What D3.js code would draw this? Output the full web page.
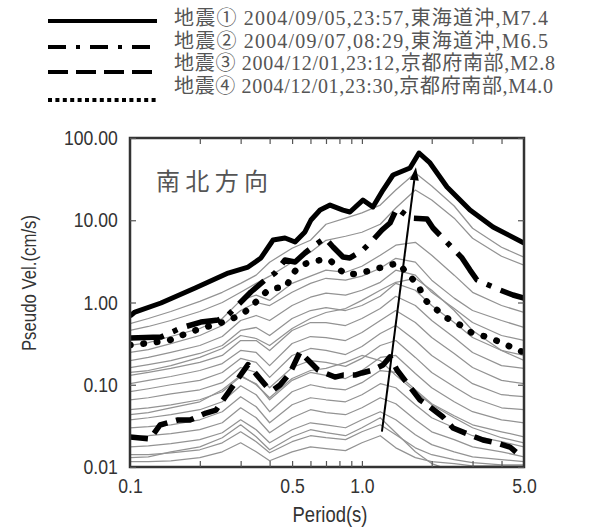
<!DOCTYPE html>
<html><head><meta charset="utf-8">
<script src="https://cdn.jsdelivr.net/npm/d3@7"></script>
<style>body{margin:0;background:#fff}</style>
</head><body><svg id="c" width="595" height="529"></svg>
<script>
// ---- data ----
const legendLabels = [
  "地震① 2004/09/05,23:57,東海道沖,M7.4",
  "地震② 2004/09/07,08:29,東海道沖,M6.5",
  "地震③ 2004/12/01,23:12,京都府南部,M2.8",
  "地震④ 2004/12/01,23:30,京都府南部,M4.0"
];
const panelTitle = "南北方向";
const xLabel = "Period(s)";
const yLabel = "Pseudo Vel.(cm/s)";
const xTickValues = [0.1, 0.5, 1, 5];
const xTickLabels = ["0.1", "0.5", "1.0", "5.0"];
const xMinorTicks = [0.2,0.3,0.4,0.5,0.6,0.7,0.8,0.9,1,2,3,4];
const yTickValues = [0.01, 0.1, 1, 10, 100];
const yTickLabels = ["0.01", "0.10", "1.00", "10.00", "100.00"];

// earthquake 1 (solid)
const eq1Period = [0.1,0.105,0.136,0.191,0.265,0.323,0.367,0.414,0.466,0.515,0.568,0.603,0.66,0.729,0.829,0.888,1.01,1.115,1.233,1.362,1.612,1.763,1.966,2.328,2.925,3.675,5.0];
const eq1Vel = [0.685,0.766,0.986,1.50,2.28,2.70,3.48,5.75,6.08,5.44,7.20,10.07,13.3,15.3,13.3,12.6,17.6,14.5,23.3,35.5,43.2,65.7,49.7,25.4,13.3,8.28,5.29];
// earthquake 2 (dash-dot)
const eq2Period = [0.1,0.136,0.166,0.202,0.240,0.265,0.292,0.332,0.382,0.422,0.466,0.515,0.568,0.628,0.693,0.751,0.829,0.888,1.01,1.115,1.221,1.322,1.417,1.489,1.612,1.909,2.026,2.702,2.925,3.135,3.939,4.483,5.0];
const eq2Vel = [0.370,0.381,0.490,0.579,0.613,0.705,0.932,1.342,1.877,2.28,3.29,3.11,4.00,5.00,6.08,4.73,3.57,3.48,4.35,5.75,7.61,9.26,14.1,12.6,10.65,10.35,8.05,3.48,2.48,1.877,1.419,1.234,1.13];
// earthquake 3 (dashed)
const eq3Period = [0.1,0.122,0.1347,0.161,0.1815,0.2127,0.2349,0.2646,0.2836,0.3227,0.3529,0.3897,0.4136,0.4433,0.4897,0.5408,0.5973,0.6467,0.6932,0.7656,0.8289,0.9337,1.0,1.115,1.233,1.322,1.417,1.564,1.781,1.966,2.237,2.471,2.925,3.328,3.824,4.351,4.951];
const eq3Vel = [0.0232,0.0219,0.0324,0.0373,0.0373,0.0453,0.0493,0.0794,0.105,0.176,0.131,0.0939,0.0863,0.0993,0.139,0.250,0.189,0.151,0.139,0.124,0.131,0.131,0.139,0.151,0.174,0.218,0.151,0.105,0.0653,0.0536,0.0405,0.0298,0.0245,0.0213,0.0196,0.0175,0.0129];
// earthquake 4 (dotted)
const eq4Period = [0.1,0.122,0.149,0.1815,0.221,0.270,0.313,0.3565,0.394,0.426,0.471,0.505,0.541,0.597,0.666,0.729,0.781,0.8625,0.981,1.104,1.233,1.431,1.564,1.746,1.871,2.108,2.328,2.649,2.984,3.462,3.939,4.483,4.951];
const eq4Vel = [0.304,0.322,0.350,0.438,0.518,0.613,0.766,1.073,1.419,1.50,1.543,2.28,2.78,3.11,3.29,3.29,2.63,2.16,2.28,2.48,2.70,3.02,2.28,1.632,1.073,0.811,0.648,0.533,0.426,0.381,0.331,0.280,0.250];

// other records (grey), all on the same period grid
const greyPeriod = [0.1,0.12,0.15,0.2,0.25,0.3,0.35,0.4,0.5,0.6,0.7,0.85,1.0,1.2,1.4,1.7,2.0,2.5,3.0,4.0,5.0];
const greyA1 = [0.555,0.639,0.777,1.03,1.33,1.71,2.15,3.09,4.57,5.71,8.94,10.6,12.3,15.3,23.3,37.5,26.1,14.9,7.99,4.70,3.55];
const greyA2 = [0.457,0.511,0.604,0.777,1.0,1.33,1.71,2.09,3.09,4.08,5.71,6.39,7.15,8.94,14.1,23.3,17.6,10.6,6.04,3.65,2.84];
const greyC4 = [0.300,0.326,0.386,0.483,0.639,1.06,1.23,1.06,1.71,2.09,2.47,2.33,2.76,3.75,4.97,5.40,3.75,2.15,1.33,0.919,0.756];
const greyB1 = [0.247,0.268,0.317,0.397,0.525,0.799,1.0,0.919,1.33,1.71,1.97,1.87,2.09,2.61,3.45,3.09,1.87,1.13,0.799,0.604,0.497];
const greyB2 = [0.197,0.215,0.247,0.300,0.386,0.604,0.695,0.604,0.919,1.16,1.30,1.23,1.41,1.76,2.47,2.15,1.33,0.845,0.571,0.397,0.345];
const greyC1 = [0.141,0.149,0.171,0.215,0.276,0.397,0.365,0.300,0.483,0.639,0.756,0.845,1.06,1.41,1.76,1.97,1.41,0.799,0.457,0.261,0.197];
const greyB3 = [0.162,0.176,0.197,0.240,0.300,0.457,0.497,0.397,0.639,0.799,0.869,0.799,0.919,1.19,1.71,1.41,0.919,0.571,0.375,0.261,0.227];
const greyB4 = [0.130,0.141,0.158,0.187,0.227,0.345,0.345,0.261,0.457,0.571,0.571,0.525,0.639,0.845,1.19,0.919,0.604,0.375,0.247,0.171,0.158];
const greyB5 = [0.103,0.113,0.126,0.149,0.181,0.261,0.247,0.171,0.317,0.386,0.375,0.345,0.432,0.604,0.799,0.571,0.375,0.240,0.162,0.113,0.103];
const greyB6 = [0.0822,0.0894,0.1,0.113,0.141,0.209,0.187,0.123,0.227,0.276,0.261,0.233,0.292,0.420,0.525,0.345,0.227,0.149,0.103,0.0756,0.0715];
const greyB7 = [0.0657,0.0695,0.0777,0.0869,0.106,0.162,0.141,0.0919,0.162,0.197,0.187,0.167,0.209,0.300,0.345,0.215,0.141,0.0945,0.0695,0.0525,0.0497];
const greyC2 = [0.0432,0.0457,0.0525,0.0621,0.0869,0.130,0.1,0.0695,0.119,0.149,0.158,0.187,0.227,0.197,0.130,0.0822,0.0571,0.0397,0.0300,0.0227,0.0197];
const greyB8 = [0.0497,0.0525,0.0571,0.0657,0.0822,0.126,0.103,0.0657,0.113,0.141,0.130,0.119,0.149,0.215,0.227,0.137,0.0919,0.0621,0.0470,0.0375,0.0345];
const greyB9 = [0.0375,0.0397,0.0432,0.0497,0.0621,0.0972,0.0756,0.0470,0.0822,0.1,0.0919,0.0869,0.106,0.149,0.141,0.0869,0.0587,0.0420,0.0326,0.0268,0.0233];
const greyB10 = [0.0300,0.0309,0.0326,0.0375,0.0470,0.0715,0.0540,0.0345,0.0571,0.0695,0.0657,0.0621,0.0756,0.103,0.0919,0.0571,0.0397,0.0300,0.0240,0.0203,0.0176];
const greyB11 = [0.0233,0.0240,0.0254,0.0284,0.0345,0.0525,0.0397,0.0261,0.0397,0.0497,0.0457,0.0432,0.0525,0.0695,0.0587,0.0375,0.0268,0.0215,0.0176,0.0153,0.0133];
const greyB12 = [0.0176,0.0181,0.0192,0.0215,0.0261,0.0375,0.0284,0.0197,0.0284,0.0345,0.0326,0.0300,0.0375,0.0470,0.0375,0.0247,0.0187,0.0153,0.0133,0.0123,0.0116];
const greyC3 = [0.0130,0.0133,0.0153,0.0176,0.0227,0.0326,0.0233,0.0162,0.0233,0.0284,0.0261,0.0240,0.0300,0.0397,0.0261,0.0153,0.0110,0.0088,0.0080,0.0074,0.0074];
const greyB13 = [0.0141,0.0141,0.0149,0.0162,0.0197,0.0268,0.0203,0.0149,0.0203,0.0240,0.0227,0.0215,0.0268,0.0326,0.0247,0.0171,0.0141,0.0123,0.0113,0.0106,0.0106];
const greyB14 = [0.0116,0.0116,0.0119,0.0130,0.0153,0.0197,0.0153,0.0119,0.0153,0.0176,0.0167,0.0158,0.0197,0.0240,0.0171,0.0130,0.0116,0.0110,0.0103,0.0103,0.0103];
const greySeries = [greyA1,greyA2,greyC4,greyB1,greyB2,greyC1,greyB3,greyB4,greyB5,greyB6,greyB7,greyC2,greyB8,greyB9,greyB10,greyB11,greyB12,greyC3,greyB13,greyB14];

// arrow annotation (period, velocity)
const arrowFrom = [1.22, 0.027];
const arrowTo = [1.71, 44];

// ---- drawing ----
const svg = d3.select("#c");
const L = 130, R = 524, T = 138, B = 467;
const x = d3.scaleLog().domain([0.1, 5]).range([L, R]);
const y = d3.scaleLog().domain([0.01, 100]).range([B, T]);
const sans = "'Liberation Sans',Arial,sans-serif";
const SQ = 0.84; // horizontal squeeze to mimic a narrow face

svg.append("defs").append("clipPath").attr("id","clip")
  .append("rect").attr("x",L).attr("y",T).attr("width",R-L).attr("height",B-T);

const line = d3.line().x(d => x(d[0])).y(d => y(d[1]));
const plot = svg.append("g").attr("clip-path","url(#clip)");

greySeries.forEach(vals => {
  plot.append("path").datum(greyPeriod.map((p,i)=>[p, vals[i]]))
    .attr("d", line).attr("fill","none").attr("stroke","#939393").attr("stroke-width",1.25)
    .attr("stroke-linejoin","round");
});

const blackStyles = [
  {p:eq1Period, v:eq1Vel, dash:null, w:5, cap:"butt"},
  {p:eq2Period, v:eq2Vel, dash:"34,10,5,10", w:5.5, cap:"butt"},
  {p:eq3Period, v:eq3Vel, dash:"18,9", w:5.5, cap:"butt"},
  {p:eq4Period, v:eq4Vel, dash:"0.5,13", w:6.5, cap:"round"}
];
blackStyles.forEach(s => {
  plot.append("path").datum(s.p.map((p,i)=>[p, s.v[i]]))
    .attr("d", line).attr("fill","none").attr("stroke","#000").attr("stroke-width",s.w)
    .attr("stroke-linejoin","round").attr("stroke-linecap",s.cap)
    .attr("stroke-dasharray", s.dash);
});

// arrow
{
  const x1 = x(arrowFrom[0]), y1 = y(arrowFrom[1]), x2 = x(arrowTo[0]), y2 = y(arrowTo[1]);
  const a = Math.atan2(y2-y1, x2-x1), hl = 13, hw = 4.5;
  const bx = x2 - hl*Math.cos(a), by = y2 - hl*Math.sin(a);
  svg.append("line").attr("x1",x1).attr("y1",y1).attr("x2",bx).attr("y2",by)
    .attr("stroke","#000").attr("stroke-width",2);
  svg.append("path").attr("d",
    `M${x2},${y2}L${bx + hw*Math.sin(a)},${by - hw*Math.cos(a)}L${bx - hw*Math.sin(a)},${by + hw*Math.cos(a)}Z`)
    .attr("fill","#000");
}

// frame
svg.append("rect").attr("x",L).attr("y",T).attr("width",R-L).attr("height",B-T)
  .attr("fill","none").attr("stroke","#333").attr("stroke-width",2.5);

// inward ticks
const tickStyle = g => { g.select(".domain").remove(); g.selectAll("line").attr("stroke","#555").attr("stroke-width",1.2); g.selectAll("text").remove(); };
svg.append("g").attr("transform",`translate(0,${T})`).call(d3.axisTop(x).tickValues(xMinorTicks).tickSize(-6)).call(tickStyle);
svg.append("g").attr("transform",`translate(0,${B})`).call(d3.axisBottom(x).tickValues(xMinorTicks).tickSize(-6)).call(tickStyle);
svg.append("g").attr("transform",`translate(${L},0)`).call(d3.axisLeft(y).tickValues(yTickValues).tickSize(-6)).call(tickStyle);
svg.append("g").attr("transform",`translate(${R},0)`).call(d3.axisRight(y).tickValues(yTickValues).tickSize(-6)).call(tickStyle);

// tick labels (squeezed horizontally)
const labStyle = g => { g.select(".domain").remove(); g.selectAll("line").remove();
  g.selectAll("text").attr("font-family",sans).attr("font-size",21).attr("fill","#333")
    .attr("transform",`scale(${SQ},1)`); };
svg.append("g").attr("transform",`translate(0,${B})`)
  .call(d3.axisBottom(x).tickValues(xTickValues).tickFormat((d,i)=>xTickLabels[i]).tickSize(0).tickPadding(11))
  .call(labStyle);
svg.append("g").attr("transform",`translate(${L},0)`)
  .call(d3.axisLeft(y).tickValues(yTickValues).tickFormat((d,i)=>yTickLabels[i]).tickSize(0).tickPadding(14.5))
  .call(labStyle);

// axis titles
svg.append("text").attr("transform",`translate(330,522) scale(${SQ},1)`).attr("text-anchor","middle")
  .attr("font-family",sans).attr("font-size",22).attr("fill","#333").text(xLabel);
svg.append("text").attr("transform",`translate(36,283) rotate(-90) scale(${SQ},1)`).attr("text-anchor","middle")
  .attr("font-family",sans).attr("font-size",20).attr("fill","#333").text(yLabel);

// panel title
svg.append("text").attr("x",156).attr("y",190).attr("font-family","'Noto Sans CJK JP',sans-serif")
  .attr("font-size",24).attr("fill","#555").attr("textLength",112).attr("lengthAdjust","spacing").text(panelTitle);

// legend
const legLineY = [21, 47, 72, 100];
const legTextY = [18, 41, 63, 86];
const legWidth = [374, 374, 381, 379];
const legDash = [null, "18,10,4,10", "20,8", "4,3.4"];
legendLabels.forEach((t,i) => {
  svg.append("line").attr("x1",48).attr("x2",157).attr("y1",legLineY[i]).attr("y2",legLineY[i])
    .attr("stroke","#000").attr("stroke-width",4).attr("stroke-dasharray",legDash[i]);
  svg.append("text").attr("x",174).attr("y",legTextY[i]).attr("dy","0.36em")
    .attr("font-family","'Liberation Serif','Noto Sans CJK JP',serif").attr("font-size",20)
    .attr("fill","#555").attr("textLength",legWidth[i]).attr("lengthAdjust","spacing").text(t);
});
</script></body></html>
